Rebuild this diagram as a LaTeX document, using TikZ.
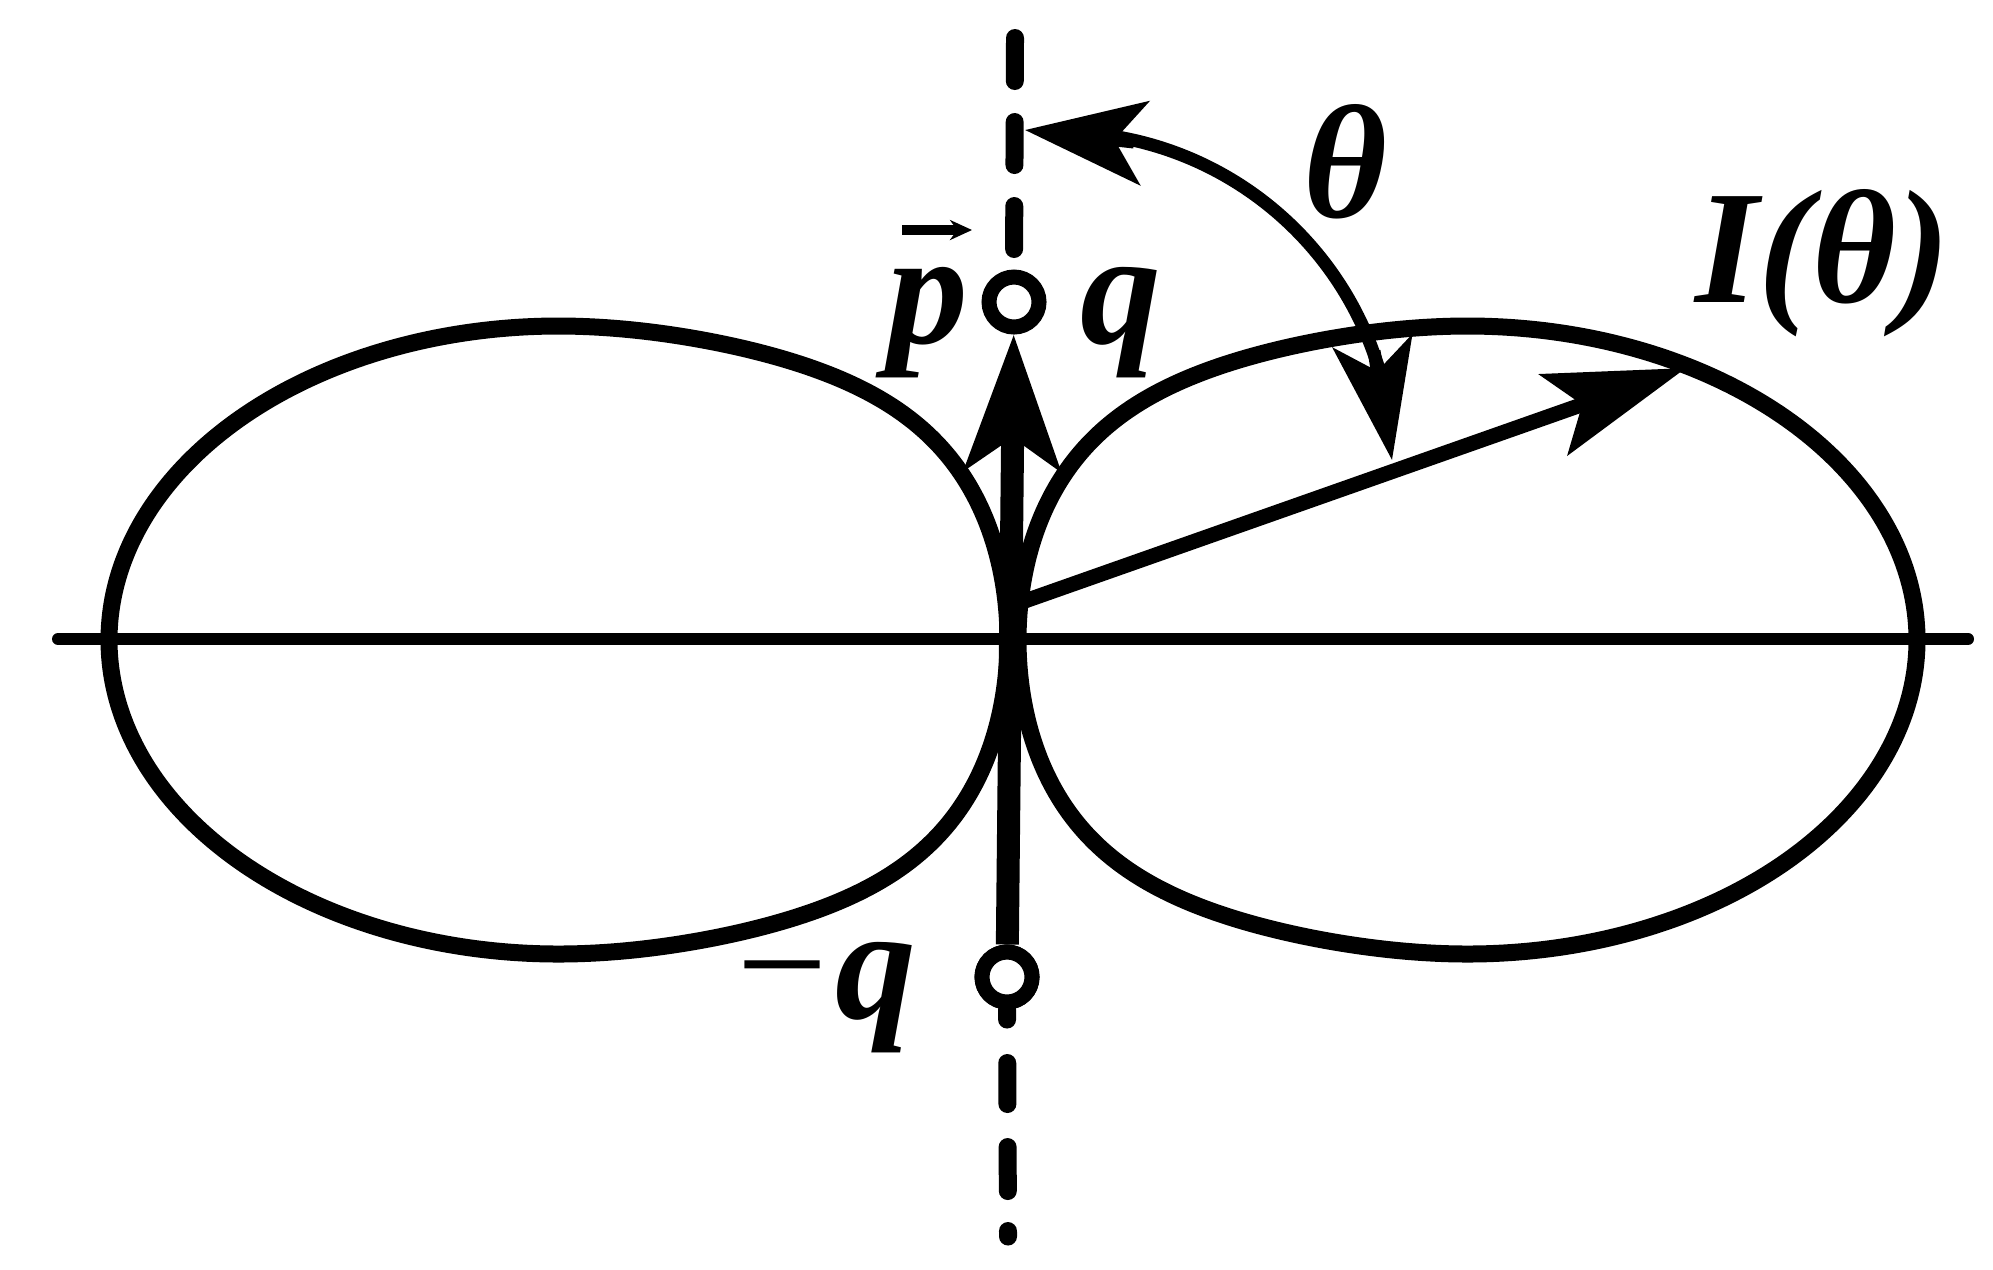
\documentclass[tikz,border=0pt]{standalone}
\usepackage{fontspec}
\setmainfont{Liberation Serif}
\usetikzlibrary{arrows.meta}
\tikzset{
  declare function={lobef(\t)=1+0.27*max(0,-cos(\t))*max(0,-cos(\t))*max(0,-cos(\t));},
  lobe/.style={line width=0.17cm, line join=round},
  haxis/.style={line width=0.12cm, line cap=round},
  dashaxis/.style={line width=0.18cm, line cap=round},
  dipole/.style={line width=0.23cm},
  charge/.style={circle, draw, line width=0.15cm, minimum size=0.50cm, inner sep=0pt, fill=white},
  intens/.style={line width=0.15cm},
  thetaarc/.style={line width=0.13cm},
  vecarr/.style={line width=0.1cm, -{Stealth[length=0.22cm, width=0.2cm]}},
  lbl/.style={font=\fontsize{46}{50}\selectfont\itshape\bfseries, inner sep=0pt}
}
\begin{document}
\begin{tikzpicture}
\useasboundingbox (0,0) rectangle (19.93,-12.69);
% key points
\coordinate (AL) at (0.58,-6.39);
\coordinate (AR) at (19.68,-6.39);
\coordinate (Vtop) at (10.15,-0.38);
\coordinate (Vbot) at (10.08,-12.365);
\coordinate (Is) at (10.22,-6.02);
\coordinate (It) at (16.86,-3.68);
\coordinate (S) at (10.25,-1.30);
\coordinate (Sa) at (11.34,-1.42);
\coordinate (E) at (13.92,-4.60);
\coordinate (Ea) at (13.74,-3.51);
\coordinate (A1) at (10.948,-1.338);
% horizontal axis
\draw[haxis] (AL) -- (AR);
% radiation pattern lobes
\draw[lobe] plot[domain=0:358, samples=180, smooth cycle]
  ({14.675+4.495*cos(\x)}, {-6.40+3.14*sin(\x)*lobef(\x)});
\draw[lobe] plot[domain=0:358, samples=180, smooth cycle]
  ({5.585-4.495*cos(\x)}, {-6.40+3.14*sin(\x)*lobef(\x)});
% charges
\node[charge] (qp) at (10.14,-3.02) {};
\node[charge] (qm) at (10.07,-9.77) {};
% dashed axis of the dipole
\draw[dashaxis, dash pattern=on 0.43cm off 0.41cm] (Vtop) -- (qp.north);
\draw[dashaxis, dash pattern=on 0.10cm off 0.435cm on 0.41cm off 0.43cm on 0.44cm off 0.40cm on 0.5cm off 0.5cm] (qm.south) -- (Vbot);
\node[charge] at (qm) {};
% dipole moment
\draw[dipole, -{Stealth[length=1.35cm, width=0.95cm, inset=0.32cm]}] (qm) -- (qp);
% intensity vector
\draw[intens, -{Stealth[length=1.4cm, width=0.85cm, inset=0.3cm]}] (Is) -- (It);
% angle theta
\draw[thetaarc] (A1) arc[start angle=84, end angle=10, radius=3.33];
\draw[thetaarc, -{Stealth[length=1.2cm, width=0.84cm, inset=0.3cm]}] (Sa) -- (S);
\draw[thetaarc, -{Stealth[length=1.2cm, width=0.80cm, inset=0.3cm]}] (Ea) -- (E);
% labels
\node[lbl, anchor=base] (p) at (9.28,-3.43) {p};
\coordinate (pv1) at (9.02,-2.30);
\coordinate (pv2) at (9.72,-2.30);
\draw[vecarr] (pv1) -- (pv2);
\node[lbl, anchor=base] (q) at (11.21,-3.43) {q};
\node[lbl, anchor=base] (th) at (13.45,-2.17) {θ};
\node[lbl, anchor=base] (I) at (18.23,-3.02) {I(θ)};
\node[lbl, anchor=base east] (mq) at (9.17,-10.18) {{\mdseries −}q};
\end{tikzpicture}
\end{document}
